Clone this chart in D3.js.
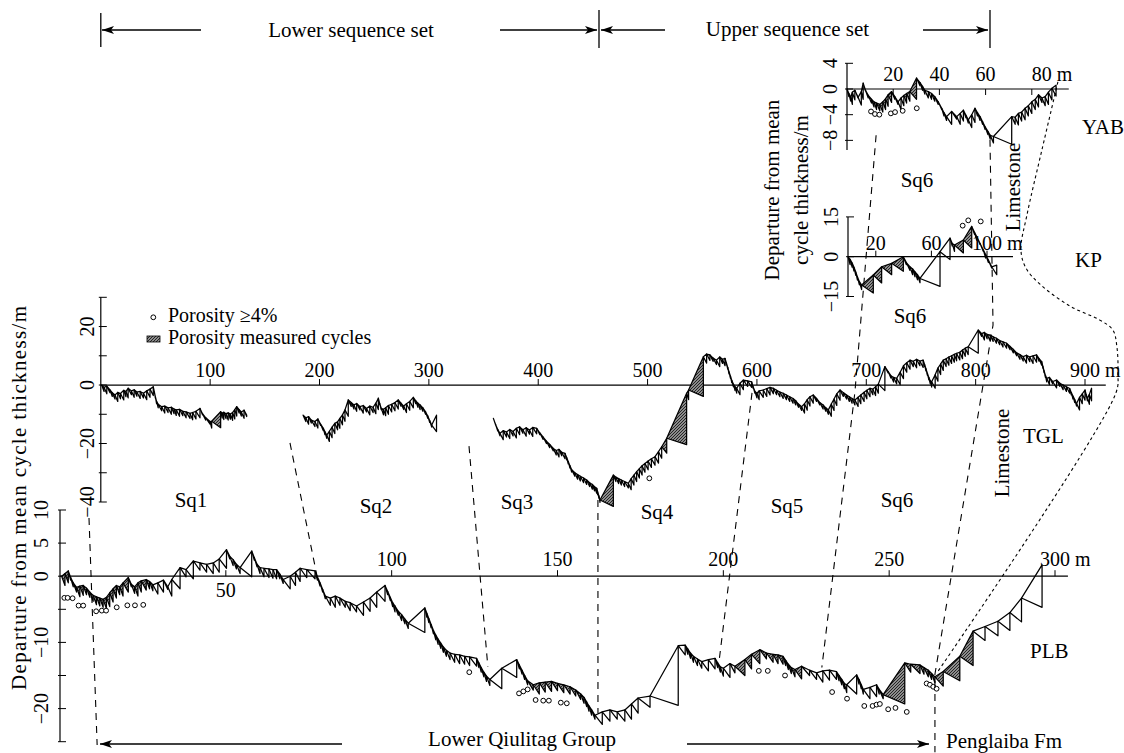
<!DOCTYPE html>
<html>
<head>
<meta charset="utf-8">
<script src="https://d3js.org/d3.v7.min.js"></script>
<style>
  body { margin: 0; background: #fff; }
  text { font-family: "Liberation Serif", "Times New Roman", serif; fill: #000; }
</style>
</head>
<body>
<svg id="chart" width="1124" height="753"></svg>
<script>
// ---- data: cycle tops [cumulative thickness m, departure from mean m] ----
const plbMean = 1.4, tglMean = 2.2, kpMean = 3.0, yabMean = 1.2;

const plbTops = [[0.5,0],[1.5,0.4],[2.5,0.8],[3.2,-0.2],[4,-1],[5,-1.7],[6,-1.5],[7,-1.4],[8,-1.8],[9,-2.4],[10,-2.9],[11,-3.1],[12,-3.3],[13,-3.5],[14,-3.2],[15,-2.5],[16,-1.9],[17,-1.4],[18,-1.6],[19,-1],[20.6,-0.2],[21.5,-1.2],[22.5,-1.6],[23.5,-1],[24.5,-0.7],[26,-0.5],[27,-0.8],[28,-1.3],[29.5,-1],[31.2,-0.6],[32.5,-1.6],[33.7,-0.5],[36.2,1.3],[38,1],[40.2,2.3],[42.2,2],[44.2,1.8],[46.2,2],[48,2.6],[50.2,4],[51.2,3],[52.2,2.5],[53.2,1.8],[54.3,1.3],[57.8,3.8],[58.6,2.8],[59.4,1.8],[60.3,1.3],[61.5,1.2],[63,1.1],[64.2,1],[65.3,1],[66.3,0.3],[67.3,-0.5],[69.4,0],[71,0.6],[72.4,1.2],[74.4,1],[76.9,0.8],[77.6,-0.1],[78.4,-1],[79.2,-2],[80,-3],[81.5,-3.3],[83,-3],[84.4,-3.3],[86,-3.8],[87.5,-4],[89.4,-4.5],[91.5,-3.9],[93.5,-3.3],[95.5,-2.4],[98,-1.4],[98.8,-2.3],[99.6,-3.2],[100.3,-4],[101,-4.5],[102,-5.3],[103,-5.8],[104,-6.5],[105,-7.1],[110,-4.8],[110.6,-5.6],[111.2,-6.4],[111.9,-7.3],[112.6,-8.2],[113.3,-8.9],[114,-9.5],[114.8,-10.1],[115.6,-10.7],[116.5,-11.2],[117.6,-11.6],[119,-11.8],[120.5,-11.9],[122,-12.1],[123.5,-12.2],[125.6,-12.4],[126.3,-13.1],[127,-13.8],[127.8,-14.5],[128.6,-15.1],[129.6,-15.6],[133.2,-13.9],[137.7,-12.6],[138.5,-13.4],[139.3,-14.2],[140.1,-15],[141,-15.8],[142.7,-16.4],[144.5,-16.1],[146.3,-16],[148.2,-15.9],[150,-16.2],[151.9,-16.4],[153.8,-16.7],[155.5,-17.2],[157,-17.8],[158,-18.3],[158.8,-19],[159.5,-19.6],[160.3,-20.2],[161.3,-21],[163.5,-20.5],[165.8,-20.2],[168,-20.5],[170.3,-20.2],[172.3,-19.3],[174.3,-18.4],[177.9,-18.1],[186.4,-10.5],[188.5,-10.4],[189.3,-11],[190.1,-11.6],[191,-12.1],[192.2,-12.5],[193.5,-12.9],[195.5,-12.6],[197.5,-12.4],[198.3,-13.1],[199.1,-13.7],[200,-13.9],[202,-13.2],[203.5,-13.6],[206.5,-12.6],[208.5,-11.8],[211,-11.1],[213,-11.6],[215,-11.8],[216.5,-11.9],[218,-12.1],[218.8,-12.7],[219.6,-13.3],[220.5,-13.8],[221.6,-14.1],[223.6,-13.6],[226,-14.2],[228.1,-14.6],[230,-14.3],[232,-14.2],[234.1,-14.4],[234.9,-15],[235.7,-15.6],[236.5,-16.2],[237.2,-16.4],[240.2,-14.9],[240.9,-15.6],[241.6,-16.4],[242.2,-17.1],[244.2,-16.8],[246.2,-16.4],[247,-17.1],[248.2,-17.9],[254.7,-13.1],[256.5,-13.3],[259.3,-13.4],[260.5,-13.8],[261.8,-14.2],[262.8,-14.7],[263.8,-15.2],[266.3,-14.4],[271.3,-12.1],[275.3,-8.3],[278.9,-7.6],[282.8,-6.8],[286.4,-5.5],[289.9,-3.3],[296.1,1.7]];

const tglSq1 = [[0.8,0],[3,-0.8],[5.5,-0.4],[8.4,-1.7],[10.5,-2.6],[13,-3.4],[15.5,-2.5],[18,-2.9],[21,-1.8],[23,-2.2],[25,-1.1],[28,-2],[30.5,-1.6],[33,-2.4],[36,-2.2],[39,-2.8],[42,-2],[45,-1.4],[48,-0.6],[49,-2.4],[50,-4.2],[51,-5.6],[52.5,-6.6],[55.7,-7.4],[58.5,-7.2],[61.5,-7.8],[64.5,-7.6],[67,-8.2],[69,-8.5],[72,-8.3],[75,-9],[78,-9.2],[81.6,-9.7],[84,-9.4],[87,-9],[90.7,-8],[93,-9.8],[96,-11.2],[99.9,-12.5],[101.4,-12.4],[109.6,-9.1],[111,-9.6],[112.5,-9.3],[114.5,-9.8],[116.5,-9.5],[118.5,-9.9],[120.5,-9.4],[122.5,-8.4],[124.3,-7.4],[126.5,-8.4],[128.5,-9.2],[131,-8.6],[133.4,-10.3]];

const tglSq2 = [[185,-10.3],[187.5,-11.2],[190,-10.8],[192.5,-12],[195.8,-12.5],[198.5,-11.6],[201,-13.4],[203.5,-14.8],[205,-16],[206.6,-17.1],[209,-15.8],[211.5,-14.4],[214,-13.1],[216.5,-12.6],[218.6,-11.4],[221,-10.2],[223.3,-8.5],[226.3,-5.1],[229,-6],[231.5,-6.8],[234,-6.3],[237,-7.4],[240,-7],[243,-8],[246,-7.2],[249,-7.6],[251.5,-6.2],[253.8,-4.5],[255,-6.3],[256.5,-8],[258.5,-8.3],[260.5,-7.8],[263,-7],[266,-6.6],[269,-6],[272,-5.1],[274.5,-6.2],[277,-7.2],[279.5,-6.4],[282.5,-5.6],[285.8,-4.2],[288,-5.4],[290,-6.2],[292,-6.8],[294.5,-7.8],[297,-9.2],[299,-10.6],[300.8,-12.2],[302.6,-13.7],[307,-10.3]];

const tglSq3to6 = [[359,-11.4],[361,-13.5],[363,-15.2],[365,-16.5],[368,-15.6],[371,-16.1],[374,-15.2],[377,-15.9],[380,-14.8],[383,-14.3],[386,-15.3],[389,-14.6],[392,-15.4],[395,-14.5],[398.6,-14.8],[401.5,-16.4],[404.5,-17.8],[407.5,-19.2],[410.5,-20.3],[413.8,-21.7],[416.5,-22.4],[419,-22],[421.5,-23],[424.5,-23.4],[426,-24.8],[427.5,-26.2],[429,-27.6],[430.6,-29],[433.5,-30],[436,-30.6],[438.5,-31.2],[441.5,-31.8],[444.3,-32.5],[447,-33.4],[449.5,-34],[451.5,-34.8],[453.5,-35.3],[454.3,-36.5],[455.5,-37.9],[456.5,-39.3],[468.7,-30.8],[471,-31.5],[473.5,-32],[476,-32.5],[479,-33],[482.4,-33.6],[485,-32],[487.5,-30.8],[490,-29.6],[492.5,-28.6],[495,-27.6],[497.6,-26.8],[500.5,-26],[503.5,-25.2],[506.8,-24.5],[510,-22.8],[512.9,-21.1],[517.5,-18.2],[535.7,-2.8],[537.5,-1.7],[551,9.7],[554,10.6],[557,10.3],[560,9.2],[563,8.5],[566,9.6],[568.5,8.8],[570.8,9.1],[572,7.6],[573.3,6],[574.5,4.5],[575.8,3],[577,1.6],[578.5,0.3],[580,-0.6],[581.5,-1.1],[584.5,0.6],[587.6,1.7],[591.5,1.4],[595.2,1.1],[596.5,-0.6],[598.2,-2.2],[600,-2.8],[602,-2],[605.8,-1.7],[609,-1.2],[612,-0.8],[615,-1.1],[618,-1.8],[621,-2.4],[624,-2.8],[627,-3.4],[630,-4],[633,-4.6],[635.5,-5.4],[638,-6.5],[640.9,-7.4],[643.5,-6.4],[646,-5],[648.5,-4],[651.5,-3.4],[654.5,-4.6],[657.5,-6],[660.5,-6.8],[663,-7.8],[665.3,-8.5],[668,-6.5],[670.5,-4.8],[673,-3],[676,-1.7],[679,-2.6],[682,-3.4],[684.5,-4],[687,-4.6],[689.6,-5.1],[692.5,-4.2],[695,-3.4],[698,-2.5],[700.5,-1.8],[703.4,-1.1],[706,-1.4],[708.5,-0.6],[711,0.3],[717,6.3],[720,4.6],[722.5,3.2],[725,2.6],[727.8,2.3],[731,4.4],[734,6.6],[737,7.6],[740,8.5],[743,8.1],[746,8.8],[749,8.2],[752,8.5],[753.3,7],[754.6,5.5],[755.9,4],[757.2,2.6],[758.5,1.5],[759.8,1.1],[763,3.5],[765.5,5.8],[768,7.2],[770.4,8.5],[773,9],[775.5,9.6],[778,10],[780.5,10.5],[782.6,10.8],[785.5,11.2],[788,12],[790.5,12.6],[793.2,13.1],[802.4,18.8],[805.5,17.6],[808,18],[810.5,17.3],[813.3,17.1],[816,16.5],[819,16],[822,15.2],[825,14.8],[828.3,14.3],[831.5,13.2],[834.5,12.2],[837.5,11],[840.5,10.4],[843.5,9.7],[846.5,10.2],[849.5,9.6],[852.5,10],[855.7,10.3],[858,9],[860.4,8],[861.5,6.4],[862.6,4.8],[863.8,3.3],[865,2.3],[867.5,2.6],[870.5,1.2],[874,1.7],[877,0.6],[880,0],[883,-0.6],[886,-1.2],[887.5,-2.6],[889,-3.8],[890.6,-5],[892.3,-6.3],[895,-4.2],[897.5,-3],[900,-1.7],[901,-3.2],[902.2,-4.4],[904,-3.2],[906,-1.1]];

const kpTops = [[0,0],[1.5,-1],[3,-2.4],[4.3,-4],[5.6,-5.8],[6.8,-7.6],[8.2,-9.4],[9.8,-10.7],[18.2,-6.9],[24.2,-3.8],[31.4,-2.5],[39.8,0],[42,-2.2],[44.6,-3.8],[46.5,-4.6],[48.2,-5.7],[50,-6.8],[51.8,-8.2],[66.2,1.9],[73.4,7],[75,5],[76.6,4.4],[83,6.3],[89,11.4],[91,9.2],[92.6,7.6],[95,5],[97.4,2.5],[99,0.8],[101,-1.3],[103.4,-3.8],[107,-3.2]];

const yabTops = [[0,0],[0.8,-0.7],[1.6,-1.2],[2.3,-0.5],[3.4,-0.2],[4.8,-1.3],[6.2,-0.4],[7,0.9],[8,-0.2],[9.2,-1],[10.6,-1.6],[11.7,-2],[12.8,-2.2],[14.2,-2.4],[15.5,-2],[16.7,-1.5],[17.8,-0.9],[19.3,-0.4],[20.7,-1.2],[22.1,-2],[23.4,-1.4],[24.6,-1],[25.8,-0.7],[27.2,-0.4],[30.1,1.7],[31.6,1],[32.7,0.4],[33.7,-0.2],[35.2,-0.4],[36.6,-0.7],[38,-1.2],[39.5,-2],[41,-3],[42,-3.7],[43.1,-4.3],[45.3,-3.5],[47.5,-4.3],[49,-3.8],[50.4,-3.3],[51.5,-4.1],[52.5,-4.8],[54,-4],[55.4,-3],[56.5,-3.7],[57.6,-4.3],[58.7,-5.1],[59.8,-5.9],[61,-6.6],[62,-7.2],[63.4,-7.4],[71.3,-4.3],[72.8,-4.4],[74.2,-3.8],[75.6,-3.6],[77.1,-3],[78.5,-2.6],[80,-2],[81.5,-1.6],[82.9,-0.9],[84.4,-1.4],[85.8,-1.2],[87.2,-0.5],[88.7,0.1],[90.5,0.6]];

// porosity-measured intervals (m) per section
const plbMeasured = [[0,29],[140,160],[205,224],[247,276]];
const tglMeasured = [[101,110],[457,469],[513,552]];
const kpMeasured = [[9,40],[77,90]];
const yabMeasured = [[12,20],[25,31]];

// samples with porosity >= 4%
const plbPoro = [[1.3,-3.27],[2.3,-3.27],[3.8,-3.33],[5.6,-4.44],[7,-4.44],[10.9,-5.3],[12.6,-5.2],[13.9,-5.2],[17.1,-4.7],[20.3,-4.4],[22.6,-4.4],[25.1,-4.33],[123.4,-14.5],[138.4,-17.7],[139.7,-17.4],[141,-17.1],[143.4,-18.7],[145.7,-18.8],[147.4,-18.8],[151,-19.1],[152.8,-19.2],[210.7,-14.3],[213.4,-14.3],[218.6,-15],[232.8,-17.5],[237.3,-18.5],[242.5,-19.6],[245,-19.6],[246.2,-19.4],[247.2,-19.3],[249.7,-20.1],[251.9,-19.9],[255.3,-20.5],[261.3,-16.2],[262.3,-16.4],[263.3,-16.7],[264.3,-17]];
const tglPoro = [[501.6,-31.9]];
const kpPoro = [[82.5,11.7],[86.5,13.7],[95.5,13.3]];
const yabPoro = [[10.4,-3.5],[12.1,-3.9],[14,-4],[19,-3.8],[20.8,-3.6],[24.1,-3.4],[30.2,-3]];

// axis ticks
const plbXTicks = [50,100,150,200,250,300], plbYTicks = [10,5,0,-5,-10,-15,-20,-25], plbYLabels = [10,5,0,-10,-20];
const tglXTicks = [100,200,300,400,500,600,700,800,900], tglYTicks = [30,20,10,0,-10,-20,-30,-40], tglYLabels = [20,0,-20,-40];
const kpXTicks = [20,60,100], kpYTicks = [15,0,-15], kpYLabels = [15,0,-15];
const yabXTicks = [20,40,60,80], yabYTicks = [4,0,-4,-8], yabYLabels = [4,0,-4,-8];

// correlation lines [section, m, departure]
const seqBoundaries = [
  [["TGL",-10.8,-45.5],["PLB",11.2,-25.5]],
  [["TGL",173,-19.8],["PLB",77.5,0]],
  [["TGL",336.7,-20.9],["PLB",129,-13.7]],
  [["TGL",454.6,-39.3],["PLB",162.2,-20.7]],
  [["TGL",595.5,-2.7],["PLB",198.7,-12.9]],
  [["YAB",12.6,-7.2],["TGL",689.6,-2.4],["PLB",229.7,-13.8]],
  [["YAB",61.9,-7.9],["TGL",815.9,20.5],["PLB",263.8,-14.8],["PLB",263.8,-26.6]]
];
const limestoneTop = [["YAB",91.3,1.1],["TGL",860.6,80.4],["TGL",846.9,58.1],["TGL",841.4,46.2],["TGL",846,40],["TGL",858.8,34.5],["TGL",886.2,27],["TGL",913.6,22.2],["TGL",925.5,18.8],["TGL",929.2,13],["TGL",930.1,4.1],["TGL",928.3,-2.7],["PLB",264.4,-14.6]];

// ---- scales ----
const sec = {
  PLB: {x: d3.scaleLinear().domain([0,300]).range([60,1055]), y: d3.scaleLinear().domain([-25,10]).range([741.7,510]), mean: plbMean},
  TGL: {x: d3.scaleLinear().domain([0,900]).range([100.8,1085]), y: d3.scaleLinear().domain([-40,30]).range([502,297.3]), mean: tglMean},
  KP:  {x: d3.scaleLinear().domain([0,100]).range([848,987]), y: d3.scaleLinear().domain([-15,15]).range([296.5,216.9]), mean: kpMean},
  YAB: {x: d3.scaleLinear().domain([0,80]).range([847,1031.8]), y: d3.scaleLinear().domain([-9.5,4]).range([150,63.3]), mean: yabMean}
};

const svg = d3.select("#chart");
const defs = svg.append("defs");
const pat = defs.append("pattern").attr("id","hatch").attr("patternUnits","userSpaceOnUse")
  .attr("width",3).attr("height",3);
pat.append("rect").attr("width",3).attr("height",3).attr("fill","#8c8c8c");
pat.append("path").attr("d","M-1,1L1,-1M0,3L3,0M2,4L4,2").attr("stroke","#1a1a1a").attr("stroke-width",0.9);
defs.append("marker").attr("id","arr").attr("viewBox","0 0 12 8").attr("refX",12).attr("refY",4)
  .attr("markerWidth",12).attr("markerHeight",8).attr("markerUnits","userSpaceOnUse").attr("orient","auto")
  .append("path").attr("d","M0,0L12,4L0,8L3,4Z").attr("fill","#000");

// ---- axes ----
function xAxis(s, ticks, endM, opts) {
  const g = svg.append("g"), y0 = s.y(0);
  g.append("line").attr("x1", s.x(0)).attr("x2", s.x(endM)).attr("y1", y0).attr("y2", y0)
    .attr("stroke","#000").attr("stroke-width",1.2);
  g.selectAll(null).data(ticks).join("line")
    .attr("x1", d => s.x(d)).attr("x2", d => s.x(d))
    .attr("y1", y0).attr("y2", y0 + opts.tickDir * 6).attr("stroke","#000");
  g.selectAll(null).data(ticks).join("text")
    .attr("x", (d, i) => s.x(d) + (i === ticks.length - 1 ? opts.unitShift : 0))
    .attr("y", d => y0 + (opts.below && opts.below.includes(d) ? 21 : opts.labelDy))
    .attr("text-anchor", (d, i) => i === ticks.length - 1 ? "start" : "middle")
    .attr("font-size", 20)
    .text((d, i) => i === ticks.length - 1 ? d + " m" : d);
}
function yAxis(s, ticks, labels, labelDx) {
  const g = svg.append("g"), x0 = s.x(0), dom = s.y.domain();
  g.append("line").attr("x1", x0).attr("x2", x0).attr("y1", s.y(dom[0])).attr("y2", s.y(dom[1]))
    .attr("stroke","#000").attr("stroke-width",1.2);
  g.selectAll(null).data(ticks).join("line")
    .attr("x1", x0 - 2).attr("x2", x0 + 6).attr("y1", d => s.y(d)).attr("y2", d => s.y(d)).attr("stroke","#000");
  g.selectAll(null).data(labels).join("text")
    .attr("transform", d => `translate(${x0 + labelDx},${s.y(d)}) rotate(-90)`)
    .attr("text-anchor","middle").attr("dominant-baseline","central").attr("font-size", 20)
    .text(d => d < 0 ? "\u2212" + Math.abs(d) : d);
}
xAxis(sec.PLB, plbXTicks, 303.9, {tickDir: -1, labelDy: -10, unitShift: -15, below: [50]});
yAxis(sec.PLB, plbYTicks, plbYLabels, -19);
xAxis(sec.TGL, tglXTicks, 919, {tickDir: -1, labelDy: -8, unitShift: -15});
yAxis(sec.TGL, tglYTicks, tglYLabels, -14);
xAxis(sec.KP, kpXTicks, 118.7, {tickDir: -1, labelDy: -7, unitShift: -15});
yAxis(sec.KP, kpYTicks, kpYLabels, -17);
xAxis(sec.YAB, yabXTicks, 96, {tickDir: 1, labelDy: -8, unitShift: 0});
yAxis(sec.YAB, yabYTicks, yabYLabels, -17);

// ---- Fischer plot cycles ----
function drawCycles(s, tops, measured) {
  const cycles = d3.pairs(tops).map(([a, b]) => ({a, b,
    hatched: measured.some(r => b[0] > r[0] && b[0] <= r[1])}));
  svg.append("g").selectAll("path").data(cycles).join("path")
    .attr("d", d => {
      const x0 = s.x(d.a[0]), y0 = s.y(d.a[1]), x1 = s.x(d.b[0]), y1 = s.y(d.b[1]);
      const yc = s.y(d.a[1] - s.mean);
      return `M${x0},${y0}L${x1},${y1}L${x1},${yc}Z`;
    })
    .attr("fill", d => d.hatched ? "url(#hatch)" : "none")
    .attr("stroke","#000").attr("stroke-width",1.25).attr("stroke-linejoin","round");
}
drawCycles(sec.PLB, plbTops, plbMeasured);
drawCycles(sec.TGL, tglSq1, tglMeasured);
drawCycles(sec.TGL, tglSq2, tglMeasured);
drawCycles(sec.TGL, tglSq3to6, tglMeasured);
drawCycles(sec.KP, kpTops, kpMeasured);
drawCycles(sec.YAB, yabTops, yabMeasured);

function drawPoro(s, pts) {
  svg.append("g").selectAll("circle").data(pts).join("circle")
    .attr("cx", d => s.x(d[0])).attr("cy", d => s.y(d[1])).attr("r", 2.4)
    .attr("fill","#fff").attr("stroke","#000").attr("stroke-width",1);
}
drawPoro(sec.PLB, plbPoro);
drawPoro(sec.TGL, tglPoro);
drawPoro(sec.KP, kpPoro);
drawPoro(sec.YAB, yabPoro);

// ---- correlation lines ----
const toPx = p => [sec[p[0]].x(p[1]), sec[p[0]].y(p[2])];
svg.append("g").selectAll("path").data(seqBoundaries).join("path")
  .attr("d", d => d3.line()(d.map(toPx)))
  .attr("fill","none").attr("stroke","#000").attr("stroke-width",1.1).attr("stroke-dasharray","7,6");
svg.append("path").attr("d", d3.line().curve(d3.curveCatmullRom.alpha(0.5))(limestoneTop.map(toPx)))
  .attr("fill","none").attr("stroke","#000").attr("stroke-width",1.1).attr("stroke-dasharray","3,3");

// ---- header / footer brackets ----
function arrow(x1, y1, x2, y2) {
  svg.append("line").attr("x1",x1).attr("y1",y1).attr("x2",x2).attr("y2",y2)
    .attr("stroke","#000").attr("stroke-width",1.3).attr("marker-end","url(#arr)");
}
function bar(x, y1, y2) {
  svg.append("line").attr("x1",x).attr("x2",x).attr("y1",y1).attr("y2",y2)
    .attr("stroke","#000").attr("stroke-width",1.3);
}
bar(100.8, 13, 47); bar(599, 10, 48); bar(990, 10, 48);
arrow(201, 30, 102, 30); arrow(500, 30, 597, 30);
arrow(665, 30, 601, 30); arrow(923, 30, 988, 30);
arrow(342, 744, 100, 744); arrow(687, 744, 929, 744);

function label(txt, x, y, opts = {}) {
  const t = svg.append("text").attr("font-size", opts.size || 21).text(txt)
    .attr("text-anchor", opts.anchor || "middle");
  if (opts.rotate) t.attr("transform", `translate(${x},${y}) rotate(-90)`).attr("dominant-baseline","central");
  else t.attr("x", x).attr("y", y);
  if (opts.length) t.attr("textLength", opts.length).attr("lengthAdjust", "spacing");
  return t;
}
label("Lower sequence set", 351, 37);
label("Upper sequence set", 787.5, 36);
label("Lower Qiulitag Group", 522, 746);
label("Penglaiba Fm", 946, 748, {anchor: "start"});

const sqLabels = [["Sq1",191,507],["Sq2",376,513],["Sq3",517,509],["Sq4",657,519],["Sq5",787,513],["Sq6",897,507],["Sq6",910,323],["Sq6",917,187]];
sqLabels.forEach(d => label(d[0], d[1], d[2]));

label("YAB", 1082, 134, {anchor: "start"});
label("KP", 1075, 267, {anchor: "start"});
label("TGL", 1023, 443, {anchor: "start"});
label("PLB", 1030, 658, {anchor: "start"});
label("Limestone", 1013, 187, {rotate: true});
label("Limestone", 1002, 453, {rotate: true});

label("Departure from mean cycle thickness/m", 19, 498, {rotate: true, length: 384});
label("Departure from mean", 772, 190, {rotate: true});
label("cycle thickness/m", 801, 190, {rotate: true});

// legend
svg.append("circle").attr("cx",153.3).attr("cy",317.3).attr("r",2.4).attr("fill","#fff").attr("stroke","#000");
label("Porosity \u22654%", 168, 322, {anchor: "start", size: 20});
svg.append("rect").attr("x",147).attr("y",336).attr("width",13).attr("height",6)
  .attr("fill","url(#hatch)").attr("stroke","#000").attr("stroke-width",0.8);
label("Porosity measured cycles", 168, 344, {anchor: "start", size: 20});
</script>
</body>
</html>
